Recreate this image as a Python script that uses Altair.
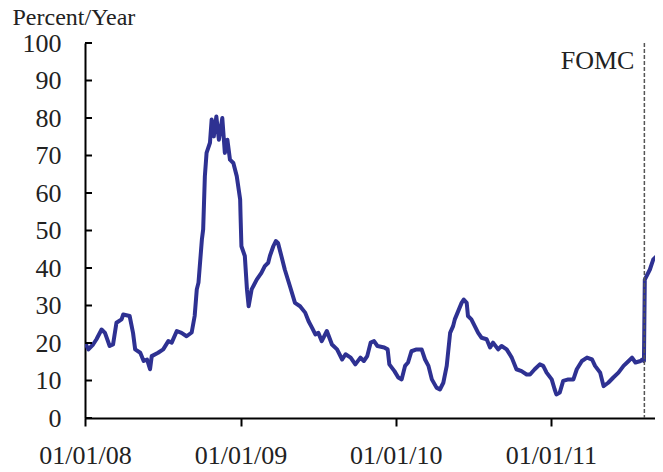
import altair as alt
import pandas as pd

dates = [
    "2008-01-01","2008-01-09","2008-01-20","2008-01-28","2008-02-09","2008-02-17","2008-02-28","2008-03-07",
    "2008-03-15","2008-03-27","2008-03-31","2008-04-15","2008-04-23","2008-04-28","2008-05-10","2008-05-18",
    "2008-05-26","2008-06-02","2008-06-06","2008-06-21","2008-07-03","2008-07-15","2008-07-23","2008-08-04",
    "2008-08-15","2008-08-27","2008-09-08","2008-09-15","2008-09-20","2008-09-24","2008-10-02","2008-10-05",
    "2008-10-09","2008-10-13","2008-10-21","2008-10-25","2008-10-30","2008-11-05","2008-11-11","2008-11-19",
    "2008-11-25","2008-12-01","2008-12-07","2008-12-15","2008-12-23","2008-12-31",
    "2009-01-01","2009-01-03","2009-01-11","2009-01-16","2009-01-20","2009-01-27","2009-02-08","2009-02-19",
    "2009-02-27","2009-03-07","2009-03-11","2009-03-19","2009-03-25","2009-03-30","2009-04-07","2009-04-15",
    "2009-04-27","2009-05-09","2009-05-21","2009-06-02","2009-06-10","2009-06-18","2009-06-26","2009-07-03",
    "2009-07-11","2009-07-23","2009-08-04","2009-08-16","2009-08-28","2009-09-05","2009-09-17","2009-09-28",
    "2009-10-10","2009-10-18","2009-10-26","2009-11-03","2009-11-11","2009-11-19","2009-12-05","2009-12-13",
    "2009-12-17","2009-12-29",
    "2010-01-07","2010-01-15","2010-01-23","2010-01-30","2010-02-07","2010-02-19","2010-03-03","2010-03-11",
    "2010-03-19","2010-03-27","2010-04-07","2010-04-15","2010-04-23","2010-05-01","2010-05-09","2010-05-16",
    "2010-05-20","2010-05-28","2010-06-05","2010-06-10","2010-06-17","2010-06-20","2010-06-28","2010-07-06",
    "2010-07-14","2010-07-22","2010-08-03","2010-08-11","2010-08-18","2010-08-30","2010-09-07","2010-09-19",
    "2010-10-01","2010-10-12","2010-10-24","2010-11-05","2010-11-13","2010-11-24","2010-12-06","2010-12-14",
    "2010-12-22",
    "2011-01-03","2011-01-10","2011-01-14","2011-01-22","2011-01-30","2011-02-11","2011-02-23","2011-03-03",
    "2011-03-15","2011-03-27","2011-04-08","2011-04-15","2011-04-27","2011-05-05","2011-05-16","2011-05-28",
    "2011-06-09","2011-06-21","2011-07-03","2011-07-11","2011-07-19","2011-07-31","2011-08-04","2011-08-08",
    "2011-08-10","2011-08-22","2011-08-30","2011-09-11","2011-09-19",
]
values = [
    20.1,18.3,19.6,21.0,23.6,22.7,19.2,19.6,
    25.4,26.3,27.6,27.2,22.7,18.3,17.4,15.2,
    15.6,13.0,16.5,17.4,18.3,20.5,20.1,23.2,
    22.7,21.8,22.8,27.2,34.3,36.1,47.6,50.3,
    64.5,70.7,73.4,79.6,75.1,80.4,74.2,80.0,
    70.7,74.2,68.9,68.0,64.5,58.3,
    53.8,45.8,43.2,34.3,29.8,34.3,36.9,38.7,
    40.5,41.4,43.2,45.8,47.2,46.7,43.2,39.6,
    35.2,30.7,29.8,28.1,25.8,24.1,22.3,22.7,
    20.5,23.2,19.6,18.3,15.6,17.0,16.1,14.3,
    16.1,15.2,16.5,20.1,20.5,19.2,18.8,18.3,
    14.3,12.5,
    10.8,10.3,13.9,14.8,17.8,18.3,18.3,15.6,
    13.9,10.3,8.1,7.6,9.4,13.9,22.7,24.5,
    26.3,28.5,30.7,31.6,30.7,27.2,26.3,24.5,
    22.7,21.4,21.0,18.8,20.1,18.3,19.2,18.3,
    16.1,13.0,12.5,11.6,11.6,13.0,14.3,13.9,
    12.1,
    10.3,7.6,6.3,6.8,9.9,10.3,10.3,13.0,
    15.2,16.1,15.6,13.9,12.1,8.5,9.4,10.8,
    12.1,13.9,15.2,16.1,14.8,15.2,15.6,15.2,
    36.9,39.6,42.3,43.6,41.8,
]
y_ticks = [0, 10, 20, 30, 40, 50, 60, 70, 80, 90, 100]
year_ticks = ["2008-01-01", "2009-01-01", "2010-01-01", "2011-01-01"]
fomc_date = ["2011-08-09"]
fomc_label = ["FOMC"]

FONT = "Liberation Serif"
W, H = 570, 375

df = pd.DataFrame({"date": pd.to_datetime(dates), "v": values})
df_ticks = pd.DataFrame({"v": y_ticks})
df_fomc = pd.DataFrame({"date": pd.to_datetime(fomc_date), "v": [93.2], "label": fomc_label})

xscale = alt.Scale(domain=[alt.DateTime(year=2008, month=1, date=1),
                           alt.DateTime(year=2011, month=9, date=3)])
yscale = alt.Scale(domain=[0, 100], nice=False, zero=True)

xaxis = alt.Axis(
    values=[alt.DateTime(year=int(d[:4]), month=1, date=1) for d in year_ticks],
    format="%m/%d/%y", title=None, grid=False, labelFlush=False, labelOverlap=False,
    domainColor="black", domainWidth=2, tickColor="black", tickWidth=2, tickSize=8,
    labelFont=FONT, labelFontSize=26, labelColor="#222", labelPadding=16,
)
yaxis = alt.Axis(
    values=y_ticks, title="Percent/Year", grid=False, ticks=False,
    labelOverlap=False, labelFlush=False,
    domainColor="black", domainWidth=2,
    labelFont=FONT, labelFontSize=26, labelColor="#222", labelPadding=24,
    titleFont=FONT, titleFontSize=24, titleFontWeight="normal", titleColor="#222",
    titleAngle=0, titleAlign="left", titleBaseline="alphabetic", titleX=-73, titleY=-19,
)

X = lambda: alt.X("date:T", scale=xscale, axis=xaxis)
Y = lambda: alt.Y("v:Q", scale=yscale, axis=yaxis)

line = alt.Chart(df).mark_line(color="#2E3192", strokeWidth=4, strokeJoin="round", clip=True).encode(
    x=X(), y=Y(),
)

yticks = alt.Chart(df_ticks).mark_rule(color="black", strokeWidth=2).encode(
    y=Y(), x=alt.value(0), x2=alt.value(7),
)

fomc_rule = alt.Chart(df_fomc).mark_rule(color="#555", strokeWidth=1.5, strokeDash=[4, 2]).encode(
    x=X(),
)

fomc_text = alt.Chart(df_fomc).mark_text(
    align="right", baseline="alphabetic", dx=-10, font=FONT, fontSize=26, color="#222"
).encode(
    x=X(), y=Y(), text="label:N",
)

chart = alt.layer(line, yticks, fomc_rule, fomc_text).properties(
    width=W, height=H,
    autosize=alt.AutoSizeParams(type="none"),
    padding={"left": 77, "top": 35, "right": 0, "bottom": 52},
).configure_view(stroke=None)

chart.save("out.html", embed_options={"renderer": "svg", "actions": False})
